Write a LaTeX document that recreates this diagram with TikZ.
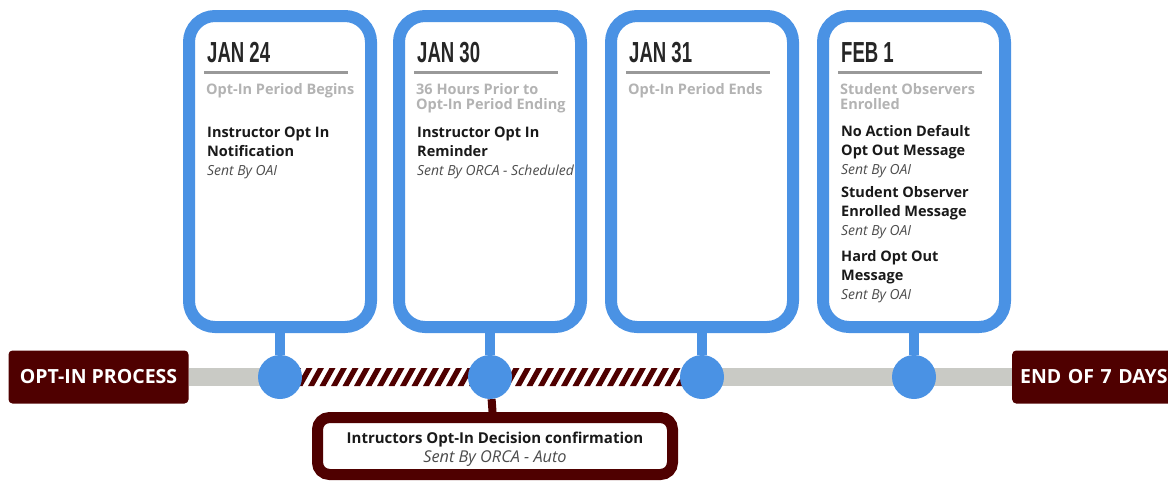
\documentclass[tikz,border=0pt]{standalone}
\usepackage{fontspec}
\setmainfont{Open Sans}
\newfontfamily\datefont[FakeStretch=0.64]{Liberation Sans}
\usetikzlibrary{positioning}
\definecolor{cardblue}{HTML}{4A92E4}
\definecolor{maroon}{HTML}{4F0000}
\definecolor{trackgray}{HTML}{C9CAC5}
\definecolor{subgray}{HTML}{B3B3B3}
\definecolor{rulegray}{HTML}{999999}
\tikzset{%
  card/.style = {rectangle,draw=cardblue,line width=12pt,rounded corners=26pt,
        fill=white,minimum width=182pt,minimum height=311pt,inner sep=0pt},
  dot/.style = {circle,fill=cardblue,minimum size=44pt,inner sep=0pt},
  tag/.style = {rectangle,fill=maroon,rounded corners=4pt,text=white,
        font=\bfseries\fontsize{19.5}{22}\selectfont,minimum height=53pt},
  stem/.style = {draw=cardblue,line width=10pt},
  datetxt/.style = {anchor=base west,inner sep=0pt,text=black!85,
        font=\datefont\bfseries\fontsize{29}{30}\selectfont},
  subtxt/.style = {anchor=north west,inner sep=0pt,align=left,text=subgray,
        font=\bfseries\fontsize{14.5}{15.5}\selectfont},
  msg/.style = {anchor=north west,inner sep=0pt,align=left,text=black!90,
        font=\bfseries\fontsize{14.5}{19}\selectfont}
}
\newcommand{\sentby}[2][13.9]{{\fontsize{#1}{19}\selectfont\mdseries\itshape\color{black!70}Sent By #2}}

\begin{document}
\begin{tikzpicture}[x=1pt,y=-1pt]
\useasboundingbox (0,0) rectangle (1168,480);
\node[tag,minimum width=180pt] (opt) at (98.5,377) {OPT-IN PROCESS};
\node[tag,anchor=west,text width=150pt,align=left,inner xsep=8pt] (end) at (1012,377) {END OF 7 DAYS};
\draw[trackgray,line width=18pt] (opt.east) -- (end.west);
\begin{scope}
  \clip (280,368) rectangle (702,386);
  \fill[white] (280,368) rectangle (702,386);
  \foreach \h in {262,273.5,...,702}
    \fill[maroon] (\h,386) -- ++(6,0) -- ++(10,-18) -- ++(-6,0) -- cycle;
\end{scope}
\foreach \n/\x/\d/\s in {1/280/{JAN 24}/{Opt-In Period Begins},
    2/490/{JAN 30}/{36 Hours Prior to\\Opt-In Period Ending},
    3/702/{JAN 31}/{Opt-In Period Ends},
    4/914/{FEB 1}/{Student Observers\\Enrolled}}{
  \node[card] (c\n) at (\x,171.5) {};
  \node[datetxt] (d\n) at (\x-73,62) {\d};
  \draw[rulegray,line width=3pt] (\x-76,72.5) -- (\x+68,72.5);
  \node[subtxt] (s\n) at (\x-74,83) {\s};
  \node[dot] (p\n) at (\x,377) {};
  \draw[stem] (c\n) -- (p\n);
}
\node[msg] (m1) at (207,127) {Instructor Opt In\\Notification\\\sentby{OAI}};
\node[msg] (m2) at (417,127) {Instructor Opt In\\Reminder\\\sentby{ORCA - Scheduled}};
\node[msg] (m41) at (841,125) {No Action Default\\Opt Out Message\\\sentby{OAI}};
\node[msg] (m42) at (841,186) {Student Observer\\Enrolled Message\\\sentby{OAI}};
\node[msg] (m43) at (841,250) {Hard Opt Out\\Message\\\sentby{OAI}};
\node[rectangle,draw=maroon,line width=11pt,rounded corners=12pt,fill=white,
      minimum width=355pt,minimum height=57pt] (conf) at (495,446) {};
\draw[maroon,line width=8pt] (p2) -- (conf);
\node[anchor=north,inner sep=0pt,align=center,text=black!90,
      font=\bfseries\fontsize{15}{19}\selectfont] (conftxt) at (495,432)
      {Intructors Opt-In Decision confirmation\\\sentby[16.3]{ORCA - Auto}};
\end{tikzpicture}
\end{document}
